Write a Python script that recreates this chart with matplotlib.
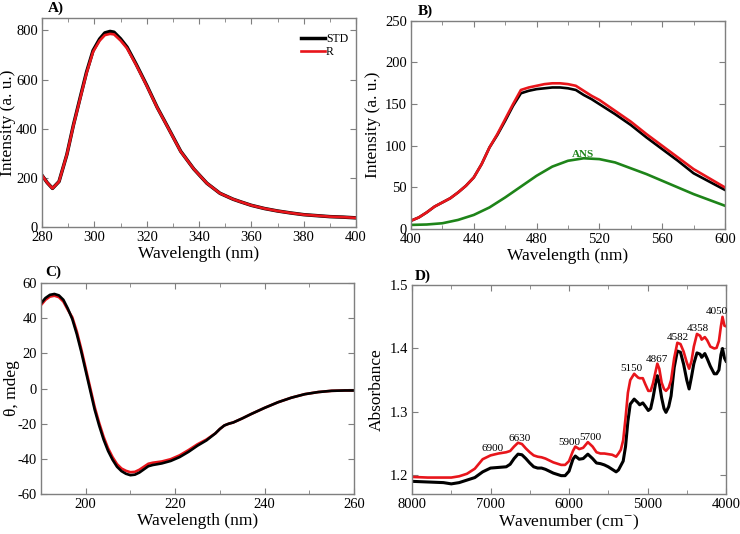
import matplotlib
matplotlib.use("Agg")
import matplotlib.pyplot as plt
from matplotlib.ticker import MultipleLocator

plt.rcParams["font.family"] = ["Liberation Serif", "DejaVu Serif"]
plt.rcParams["mathtext.fontset"] = "stix"
plt.rcParams["axes.unicode_minus"] = False

# ---- panel A: intrinsic fluorescence ----
wl_a = [280, 282, 284, 286.5, 289.5, 292, 294.5, 297, 299.5, 302, 304, 306, 307.5,
        310, 312.5, 316, 320, 324, 328, 333, 338, 343, 348, 353, 356, 360, 365,
        370, 375, 380, 385, 390, 395, 400]
std_a = [210, 180, 157, 185, 295, 415, 523, 630, 718, 765, 790, 796, 793,
         766, 732, 662, 577, 487, 408, 308, 236, 178, 137, 113, 102, 88, 75,
         65, 57, 50, 46, 42, 40, 37]
r_a = [210, 180, 157, 185, 295, 413, 520, 626, 713, 758, 781, 786, 784,
       759, 727, 659, 575, 486, 407, 307, 236, 178, 137, 113, 102, 88, 75,
       65, 57, 50, 46, 42, 40, 37]

# ---- panel B: ANS fluorescence ----
wl_b = [400, 405, 410, 415, 420, 425, 430, 435, 440, 445, 450, 455, 460, 465, 470,
        475, 480, 485, 490, 495, 500, 505, 510, 515, 520, 530, 540, 550, 560, 570,
        580, 590, 600]
std_b = [10, 14, 20, 27, 32, 37, 44, 52, 62, 78, 98, 113, 130, 148, 163,
         166, 168, 169, 170, 170, 169, 167, 161, 156, 150, 138, 125, 110, 96, 82,
         67, 57, 47]
r_b = [10, 14, 20, 27, 32, 37, 44, 52, 62, 78, 98, 114, 132, 150, 167,
       170, 172, 174, 175, 175, 174, 172, 166, 160, 155, 142, 129, 114, 100, 86,
       72, 61, 50]
wl_ans = [400, 410, 420, 430, 440, 450, 460, 470, 480, 490, 500, 510, 520, 530,
          540, 550, 560, 570, 580, 590, 600]
ans_b = [5, 5.5, 7, 11, 17, 26, 38, 51, 64, 75, 82, 85, 84, 80,
         73, 66, 58, 50, 42, 35, 28]

# ---- panel C: far-UV CD ----
wl_c = [190, 191, 192, 193, 194, 195, 196, 197, 198, 199, 200, 201, 202, 203, 204,
        205, 206, 207, 208, 209, 210, 211, 212, 213, 214, 215, 217, 219, 221, 223,
        225, 227, 229, 230, 231, 232, 233, 235, 237, 240, 243, 246, 249, 252, 255,
        258, 260]
std_c = [48.5, 51.5, 53.3, 53.8, 53, 50.5, 45.5, 39.5, 31, 21, 10, -1, -12, -21, -29,
         -35.5, -40.5, -44.5, -47, -48.5, -49.3, -49, -47.8, -46, -44.2, -43.5, -42.6,
         -41.2, -39, -36, -32.5, -29.5, -25.5, -23, -21, -20, -19.3, -17, -14.5, -11,
         -7.8, -5.2, -3.2, -2, -1.3, -1.1, -1.1]
r_c = [47.5, 50.5, 52.3, 52.8, 52, 49.5, 44.8, 40.5, 32.5, 22.5, 11.5, 0.5, -10.5,
       -19.5, -27.5, -34, -39, -43, -45.5, -46.8, -47.6, -47.4, -46.2, -44.5, -42.8,
       -42.2, -41.5, -40.2, -38, -35, -31.7, -29, -25.5, -23, -21, -20, -19.3, -17,
       -14.5, -11, -7.8, -5.2, -3.2, -2, -1.3, -1.1, -1.1]

# ---- panel D: NIR absorbance ----
wn_d = [8000, 7800, 7600, 7500, 7400, 7300, 7200, 7100, 7000, 6900, 6800, 6750,
        6700, 6650, 6600, 6550, 6500, 6450, 6400, 6350, 6300, 6250, 6200, 6100,
        6050, 6000, 5950, 5920, 5870, 5820, 5760, 5700, 5650, 5600, 5550, 5500,
        5450, 5400, 5370, 5340, 5310, 5280, 5250, 5220, 5170, 5120, 5100, 5060,
        5030, 4990, 4960, 4930, 4900, 4875, 4850, 4820, 4790, 4765, 4730, 4700,
        4660, 4620, 4580, 4540, 4500, 4470, 4440, 4410, 4370, 4330, 4310, 4270,
        4240, 4200, 4150, 4120, 4090, 4065, 4045, 4020, 4000]
r_d = [1.197, 1.196, 1.196, 1.196, 1.198, 1.202, 1.210, 1.225, 1.231, 1.234, 1.236,
       1.238, 1.245, 1.251, 1.249, 1.242, 1.236, 1.231, 1.229, 1.228, 1.226, 1.223,
       1.220, 1.216, 1.216, 1.222, 1.238, 1.245, 1.241, 1.243, 1.252, 1.245, 1.236,
       1.234, 1.234, 1.233, 1.232, 1.229, 1.234, 1.240, 1.255, 1.290, 1.330, 1.350,
       1.360, 1.354, 1.353, 1.353, 1.344, 1.333, 1.333, 1.345, 1.362, 1.376, 1.368,
       1.346, 1.336, 1.333, 1.338, 1.350, 1.385, 1.409, 1.407, 1.395, 1.378, 1.368,
       1.380, 1.403, 1.423, 1.420, 1.414, 1.418, 1.413, 1.403, 1.400, 1.401, 1.412,
       1.435, 1.450, 1.436, 1.435]
std_d = [1.190, 1.189, 1.188, 1.186, 1.188, 1.192, 1.196, 1.205, 1.211, 1.212, 1.213,
         1.217, 1.226, 1.233, 1.232, 1.226, 1.219, 1.213, 1.211, 1.211, 1.209, 1.206,
         1.203, 1.199, 1.199, 1.206, 1.225, 1.230, 1.225, 1.226, 1.233, 1.226, 1.219,
         1.218, 1.216, 1.213, 1.209, 1.205, 1.208, 1.215, 1.222, 1.245, 1.285, 1.312,
         1.320, 1.314, 1.311, 1.314, 1.309, 1.302, 1.305, 1.322, 1.343, 1.357, 1.345,
         1.322, 1.305, 1.299, 1.308, 1.325, 1.370, 1.396, 1.394, 1.375, 1.350, 1.336,
         1.355, 1.376, 1.393, 1.391, 1.386, 1.392, 1.384, 1.372, 1.360, 1.360, 1.366,
         1.390, 1.400, 1.385, 1.380]
peak_labels = ["6900", "6630", "5900", "5700", "5150", "4867", "4582", "4358", "4050"]
peak_x = [6972, 6624, 5996, 5724, 5201, 4875, 4620, 4353, 4118]
peak_y = [1.242, 1.258, 1.252, 1.259, 1.369, 1.383, 1.417, 1.432, 1.458]

FRAME = "#7f7f7f"
LW = 1.9
LABEL_FS = 12.5

fig = plt.figure(figsize=(7.4, 5.34), dpi=100)
axA = fig.add_axes([0.0568, 0.575, 0.4243, 0.391])
axB = fig.add_axes([0.5554, 0.571, 0.4243, 0.390])
axC = fig.add_axes([0.0554, 0.0749, 0.4230, 0.395])
axD = fig.add_axes([0.5568, 0.0749, 0.4243, 0.391])


def style(ax, ylab_x):
    for s in ax.spines.values():
        s.set_color(FRAME)
        s.set_linewidth(1.0)
    ax.tick_params(which="both", direction="in", top=True, right=True,
                   color=FRAME, labelsize=10.5, pad=3)
    ax.tick_params(which="major", length=4)
    ax.tick_params(which="minor", length=3)
    ax.yaxis.set_label_coords(ylab_x, 0.5)
    ax.xaxis.set_label_coords(0.5, -0.092)
    ax.xaxis.label.set_va("top")


# A
axA.plot(wl_a, std_a, color="black", lw=LW + 0.6, label="STD")
axA.plot(wl_a, r_a, color="#e8151b", lw=LW, label="R")
axA.set_xlim(280, 400)
axA.set_ylim(0, 850)
axA.xaxis.set_major_locator(MultipleLocator(20))
axA.xaxis.set_minor_locator(MultipleLocator(10))
axA.yaxis.set_major_locator(MultipleLocator(200))
axA.set_xlabel("Wavelength (nm)", fontsize=LABEL_FS)
axA.set_ylabel("Intensity (a. u.)", fontsize=LABEL_FS)
axA.legend(loc="upper right", bbox_to_anchor=(0.99, 0.95), frameon=False,
           fontsize=8.5, handlelength=2.0, handletextpad=0.1, labelspacing=0.1,
           borderaxespad=0)
style(axA, -0.082)

# B
axB.plot(wl_b, std_b, color="black", lw=LW)
axB.plot(wl_b, r_b, color="#e8151b", lw=LW)
axB.plot(wl_ans, ans_b, color="#1e8419", lw=LW)
axB.text(509.7, 90, "ANS", color="#1e8419", fontsize=8, fontweight="bold",
         ha="center", va="center")
axB.set_xlim(400, 600)
axB.set_ylim(0, 250)
axB.xaxis.set_major_locator(MultipleLocator(40))
axB.xaxis.set_minor_locator(MultipleLocator(20))
axB.yaxis.set_major_locator(MultipleLocator(50))
axB.set_xlabel("Wavelength (nm)", fontsize=LABEL_FS)
axB.set_ylabel("Intensity (a. u.)", fontsize=LABEL_FS)
style(axB, -0.094)

# C
axC.plot(wl_c, r_c, color="#e8151b", lw=LW)
axC.plot(wl_c, std_c, color="black", lw=LW)
axC.set_xlim(190, 260)
axC.set_ylim(-60, 60)
axC.xaxis.set_major_locator(MultipleLocator(20))
axC.xaxis.set_minor_locator(MultipleLocator(10))
axC.yaxis.set_major_locator(MultipleLocator(20))
axC.set_xlabel("Wavelength (nm)", fontsize=LABEL_FS)
axC.set_ylabel("θ, mdeg", fontsize=LABEL_FS)
style(axC, -0.068)

# D
axD.plot(wn_d, std_d, color="black", lw=LW + 0.3)
axD.plot(wn_d, r_d, color="#e8151b", lw=LW)
for lab, px, py in zip(peak_labels, peak_x, peak_y):
    axD.text(px, py, lab, fontsize=8, ha="center", va="center")
axD.set_xlim(8000, 4000)
axD.set_ylim(1.17, 1.5)
axD.xaxis.set_major_locator(MultipleLocator(1000))
axD.xaxis.set_minor_locator(MultipleLocator(500))
axD.yaxis.set_major_locator(MultipleLocator(0.1))
axD.set_xlabel("Wavenumber (cm$^{-}$)", fontsize=LABEL_FS)
axD.set_ylabel("Absorbance", fontsize=LABEL_FS)
style(axD, -0.086)

# panel letters
for lab, x, y in [("A)", 0.064, 0.985), ("B)", 0.565, 0.979),
                  ("C)", 0.061, 0.490), ("D)", 0.560, 0.483)]:
    fig.text(x, y, lab, fontsize=11, fontweight="bold", va="center")

fig.savefig("out.png", dpi=100)
